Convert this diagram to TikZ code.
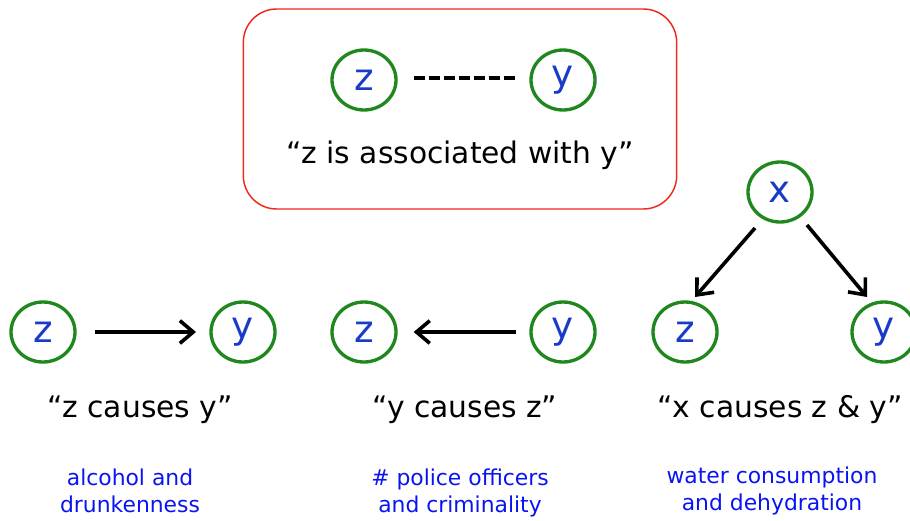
\documentclass[tikz,border=0pt]{standalone}
\usepackage{fontspec}
\setmainfont{DejaVu Sans}
\usetikzlibrary{arrows.meta,shapes.geometric}
\definecolor{cgreen}{RGB}{30,135,30}
\definecolor{cblue}{RGB}{25,60,200}
\definecolor{lblue}{RGB}{10,20,240}
\definecolor{cred}{RGB}{240,40,30}
\begin{document}
\begin{tikzpicture}[x=0.75pt,y=-0.75pt,
  var/.style={draw=cgreen,line width=2.5pt,ellipse,minimum width=48pt,minimum height=45pt,text=cblue,font=\fontsize{28}{32}\selectfont,inner sep=0pt},
  quote/.style={font=\fontsize{22.3}{26}\selectfont},
  lbl/.style={text=lblue,font=\fontsize{16.4}{20.5}\selectfont,align=center},
  arr/.style={line width=2.7pt,-{Straight Barb[length=10pt,width=17pt,line width=2.7pt]}}]
\useasboundingbox (0,0) rectangle (910,521);
\begin{scope}
\clip (0,0) rectangle (910,521);
% top box
\node[draw=cred,line width=1.1pt,rounded corners=25pt,minimum width=325pt,minimum height=150pt] (box) at (460,109) {};
\node[var] (tz) at (364,80) {z};
\node[var] (ty) at (563,80) {y};
\coordinate (da) at (414,78);
\coordinate (db) at (516,78);
\draw[line width=3pt,dash pattern=on 8.2pt off 3pt] (da) -- (db);
\node[quote] (tq) at (460,155) {“z is associated with y”};
% left
\node[var] (lz) at (43,332) {z};
\node[var] (ly) at (243,332) {y};
\draw[arr,shorten <=14pt,shorten >=10pt] (lz) -- (ly);
\node[quote] (lq) at (140,410) {“z causes y”};
\node[lbl] (ll) at (130,491) {alcohol and\\drunkenness};
% middle
\node[var] (mz) at (364,332) {z};
\node[var] (my) at (563,332) {y};
\draw[arr,shorten <=10pt,shorten >=12pt] (my) -- (mz);
\node[quote] (mq) at (465,410) {“y causes z”};
\node[lbl] (ml) at (460,493) {\# police officers\\and criminality};
% right
\node[var] (rx) at (780,192) {x};
\node[var] (rz) at (685,332) {z};
\node[var] (ry) at (884,332) {y};
\coordinate (a1) at (755,228);
\coordinate (a2) at (695,297);
\coordinate (b1) at (807,225);
\coordinate (b2) at (867,297);
\draw[arr] (a1) -- (a2);
\draw[arr] (b1) -- (b2);
\node[quote] (rq) at (780,410) {“x causes z \& y”};
\node[lbl] (rl) at (772,491) {water consumption\\and dehydration};
\end{scope}
\end{tikzpicture}
\end{document}
